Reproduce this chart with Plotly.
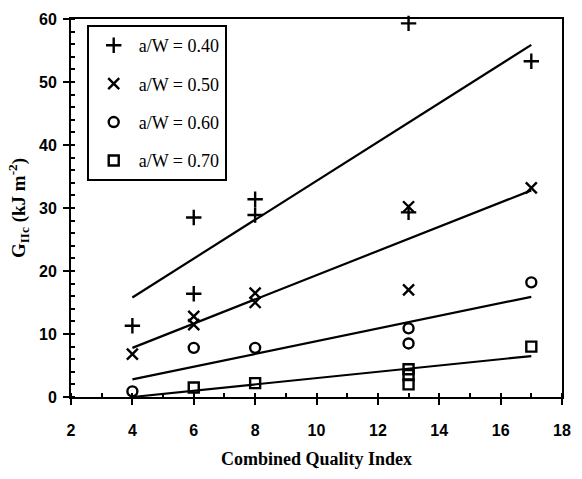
import plotly.graph_objects as go

# ---- data ----
labels = ["a/W = 0.40", "a/W = 0.50", "a/W = 0.60", "a/W = 0.70"]
symbols = ["cross-thin-open", "x-thin-open", "circle-open", "square-open"]

x_040 = [4, 6, 6, 8, 8, 13, 13, 17]
y_040 = [11.3, 28.5, 16.4, 31.4, 28.9, 59.3, 29.3, 53.3]
x_050 = [4, 6, 6, 8, 8, 13, 13, 17]
y_050 = [6.8, 12.8, 11.5, 16.5, 15.0, 30.2, 17.0, 33.2]
x_060 = [4, 6, 8, 13, 13, 17]
y_060 = [0.9, 7.8, 7.8, 10.9, 8.5, 18.2]
x_070 = [6, 8, 13, 13, 13, 17]
y_070 = [1.5, 2.2, 4.4, 3.5, 2.0, 8.0]

fit_x = [4, 17]
fit_040 = [15.8, 55.9]
fit_050 = [7.8, 32.8]
fit_060 = [2.8, 15.9]
fit_070 = [0.0, 6.5]

xs = [x_040, x_050, x_060, x_070]
ys = [y_040, y_050, y_060, y_070]
fits = [fit_040, fit_050, fit_060, fit_070]

x_ticks = [2, 4, 6, 8, 10, 12, 14, 16, 18]
y_ticks = [0, 10, 20, 30, 40, 50, 60]
x_range = [2, 18]
y_range = [0, 60]

SERIF = "Liberation Serif, Times New Roman, serif"
SANS = "Liberation Sans, Arial, sans-serif"

fig = go.Figure()
for f in fits:
    fig.add_trace(go.Scatter(x=fit_x, y=f, mode="lines", showlegend=False,
                             line=dict(color="black", width=2.2), hoverinfo="skip"))
for i in range(4):
    fig.add_trace(go.Scatter(
        x=xs[i], y=ys[i], mode="markers", name=labels[i],
        legendgroup=str(i), cliponaxis=False,
        marker=dict(symbol=symbols[i], size=11 if i < 2 else 10, color="black",
                    line=dict(color="black", width=2.4))))

axis_common = dict(showgrid=False, zeroline=False, showline=True,
                   linecolor="black", linewidth=2, mirror=True,
                   ticks="outside", ticklen=6, tickwidth=2, tickcolor="black")

fig.update_layout(
    width=582, height=479,
    margin=dict(l=71, r=11, t=15, b=82),
    paper_bgcolor="white", plot_bgcolor="white",
    xaxis=dict(range=x_range, tickvals=x_ticks,
               tickfont=dict(family=SANS, size=16, color="black", weight="bold"),
               ticklabelstandoff=12,
               minor=dict(dtick=1, ticks="inside", ticklen=4, tickwidth=1.5, tickcolor="black"),
               title=dict(text="Combined Quality Index",
                          font=dict(family=SERIF, size=18, color="black", weight="bold"),
                          standoff=14),
               **axis_common),
    yaxis=dict(range=y_range, tickvals=y_ticks,
               tickfont=dict(family=SANS, size=16, color="black", weight="bold"),
               ticklabelstandoff=3,
               minor=dict(dtick=2, ticks="inside", ticklen=4, tickwidth=1.5, tickcolor="black"),
               title=dict(text="G<sub>IIc</sub> (kJ m<sup>-2</sup>)",
                          font=dict(family=SERIF, size=19, color="black", weight="bold"),
                          standoff=8),
               **axis_common),
    # overlay axes only to draw the inner half of the crossing major ticks
    xaxis2=dict(overlaying="x", matches="x", range=x_range, tickvals=x_ticks, side="bottom",
                showticklabels=False, ticks="inside", ticklen=5, tickwidth=2,
                tickcolor="black", showgrid=False, zeroline=False, showline=False),
    yaxis2=dict(overlaying="y", matches="y", range=y_range, tickvals=y_ticks, side="left",
                showticklabels=False, ticks="inside", ticklen=5, tickwidth=2,
                tickcolor="black", showgrid=False, zeroline=False, showline=False),
    legend=dict(x=0.032, y=0.984, xanchor="left", yanchor="top",
                bordercolor="black", borderwidth=2, bgcolor="white",
                font=dict(family=SERIF, size=18, color="black"),
                tracegroupgap=12, itemwidth=40),
    showlegend=True,
)

fig.write_html("out.html", config={"displayModeBar": False},
               post_script="document.body.style.margin='0';")
